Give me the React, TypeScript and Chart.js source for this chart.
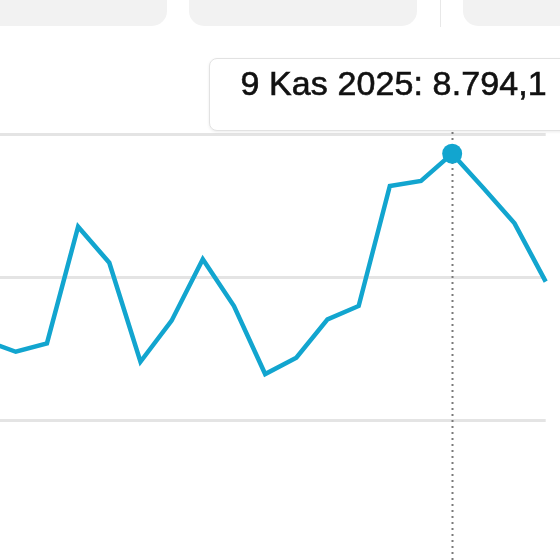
import React, { useEffect, useRef } from "react";
import { Chart, registerables } from "chart.js";

Chart.register(...registerables);

const dateLabels: string[] = [
  "25 Eki 2025", "26 Eki 2025", "27 Eki 2025", "28 Eki 2025", "29 Eki 2025",
  "30 Eki 2025", "31 Eki 2025", "1 Kas 2025", "2 Kas 2025", "3 Kas 2025",
  "4 Kas 2025", "5 Kas 2025", "6 Kas 2025", "7 Kas 2025", "8 Kas 2025",
  "9 Kas 2025", "10 Kas 2025", "11 Kas 2025", "12 Kas 2025",
];

const dailyValues: number[] = [
  6835, 6716, 6804, 8028, 7650, 6611, 7042, 7686, 7196, 6482,
  6653, 7056, 7196, 8455, 8507, 8794.1, 8434, 8063, 7451,
];

const activeIndex = 15;
const yMin = 4500;
const yMax = 9000;
const yStep = 1500;

const LINE_COLOR = "#12a5cf";

const tooltipText = `${dateLabels[activeIndex]}: ${dailyValues[activeIndex].toLocaleString("tr-TR", { minimumFractionDigits: 1, maximumFractionDigits: 1 })}`;

const crosshair = {
  id: "crosshair",
  beforeDatasetsDraw(chart: any) {
    const meta = chart.getDatasetMeta(0);
    const el = meta.data[activeIndex];
    if (!el) return;
    const ctx = chart.ctx;
    ctx.save();
    ctx.beginPath();
    ctx.setLineDash([2, 4]);
    ctx.lineWidth = 2;
    ctx.strokeStyle = "#7a7a7a";
    const x = Math.round(el.x) + 0.5;
    ctx.moveTo(x, 132);
    ctx.lineTo(x, chart.height);
    ctx.stroke();
    ctx.restore();
  },
};

export default function App() {
  const canvasRef = useRef<HTMLCanvasElement | null>(null);

  useEffect(() => {
    const canvas = canvasRef.current;
    if (!canvas) return;
    const chart = new Chart(canvas, {
      type: "line",
      data: {
        labels: dateLabels,
        datasets: [
          {
            data: dailyValues,
            borderColor: LINE_COLOR,
            backgroundColor: LINE_COLOR,
            borderWidth: 4.5,
            tension: 0,
            fill: false,
            pointRadius: (c: any) => (c.dataIndex === activeIndex ? 10 : 0),
            pointHoverRadius: (c: any) => (c.dataIndex === activeIndex ? 10 : 0),
            pointBackgroundColor: LINE_COLOR,
            pointBorderWidth: 0,
            clip: false as any,
          },
        ],
      },
      options: {
        animation: false,
        responsive: false,
        devicePixelRatio: 1,
        events: [],
        layout: { padding: { left: 4.6, right: 14.3, top: 134, bottom: 37 } },
        plugins: { legend: { display: false }, tooltip: { enabled: false } },
        scales: {
          x: { display: false },
          y: {
            display: true,
            min: yMin,
            max: yMax,
            ticks: { display: false, stepSize: yStep },
            border: { display: false },
            grid: { color: "#e4e4e4", lineWidth: 3, drawTicks: false },
          },
        },
      },
      plugins: [crosshair],
    });
    return () => chart.destroy();
  }, []);

  const box: React.CSSProperties = {
    position: "absolute",
    top: -20,
    height: 46,
    background: "#f2f2f2",
    borderRadius: 15,
  };

  return (
    <div
      style={{
        position: "fixed",
        left: 0,
        top: 0,
        width: 560,
        height: 560,
        overflow: "hidden",
        background: "#ffffff",
        fontFamily: "'Liberation Sans', Arial, sans-serif",
      }}
    >
      <div style={{ ...box, left: -40, width: 207 }} />
      <div style={{ ...box, left: 189, width: 228 }} />
      <div style={{ position: "absolute", left: 439.5, top: 0, width: 1.5, height: 27, background: "#e8e8e8" }} />
      <div style={{ ...box, left: 463, width: 160 }} />
      <canvas
        ref={canvasRef}
        width={580}
        height={600}
        style={{ position: "absolute", left: -20, top: 0, width: 580, height: 600 }}
      />
      <div
        style={{
          position: "absolute",
          left: 209,
          top: 58,
          width: 400,
          height: 73,
          background: "#ffffff",
          border: "1.5px solid #e2e2e2",
          borderRadius: 8,
          boxShadow: "0 1px 3px rgba(0,0,0,0.08)",
          boxSizing: "border-box",
        }}
      >
        <div
          style={{
            position: "absolute",
            left: 30.5,
            top: 6.5,
            fontSize: 34,
            lineHeight: "34px",
            color: "#111111",
            whiteSpace: "nowrap",
            WebkitTextStroke: "0.6px #111111",
            letterSpacing: 0.1,
          }}
        >
          {tooltipText}
        </div>
      </div>
    </div>
  );
}
